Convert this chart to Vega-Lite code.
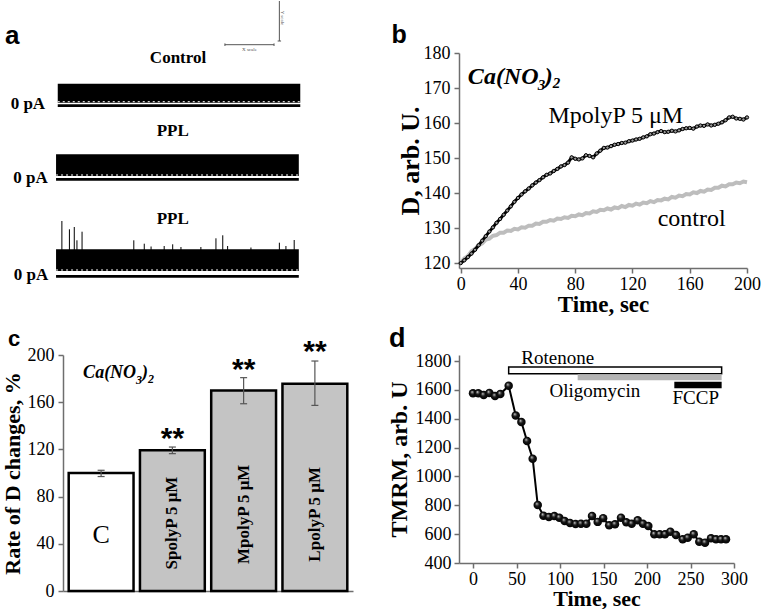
{
  "$schema": "https://vega.github.io/schema/vega-lite/v6.json",
  "background": "white",
  "padding": {"left": 1, "top": 0, "right": 0, "bottom": 0},
  "columns": 2,
  "bounds": "flush",
  "align": "each",
  "spacing": {"row": 87, "column": 106},
  "config": {
    "view": {"stroke": null},
    "axis": {
      "domainColor": "#6e6e6e", "tickColor": "#6e6e6e", "domainWidth": 1.5, "tickWidth": 1.5, "tickSize": 5,
      "labelFont": "Liberation Serif", "labelFontSize": 18, "labelColor": "#000",
      "titleFont": "Liberation Serif", "titleFontWeight": "bold", "titleColor": "#000",
      "grid": false, "labelOverlap": false, "labelFlush": false
    }
  },
  "datasets": {
    "bands": [
      {"u": -0.1, "u2": 99.7, "v": 165.3, "v2": 184.3},
      {"u": -0.8, "u2": 99.1, "v": 92, "v2": 113.7},
      {"u": -0.8, "u2": 99.1, "v": -3, "v2": 18.7}
    ],
    "speckles": [
      {"u": -0.1, "u2": 99.7, "v": 166.3},
      {"u": -0.8, "u2": 99.1, "v": 93},
      {"u": -0.8, "u2": 99.1, "v": -2}
    ],
    "baselines": [
      {"u": -0.1, "u2": 99.7, "v": 162.3},
      {"u": -0.8, "u2": 99.1, "v": 88.7},
      {"u": -0.8, "u2": 99.1, "v": -8.3}
    ],
    "spikes": [
      {"u": 1.6, "base": 18, "top": 47}, {"u": 4.7, "base": 18, "top": 38.7}, {"u": 6.7, "base": 18, "top": 41}, {"u": 7.8, "base": 18, "top": 27.7},
      {"u": 9.9, "base": 18, "top": 36.3}, {"u": 31.2, "base": 18, "top": 27.7}, {"u": 35.5, "base": 18, "top": 24.3}, {"u": 38.3, "base": 18, "top": 21.5},
      {"u": 43.7, "base": 18, "top": 22}, {"u": 47.2, "base": 18, "top": 23.7}, {"u": 50.6, "base": 18, "top": 21}, {"u": 58.8, "base": 18, "top": 21},
      {"u": 65.0, "base": 18, "top": 29.7}, {"u": 67.8, "base": 18, "top": 32.7}, {"u": 69.8, "base": 18, "top": 22}, {"u": 79.4, "base": 18, "top": 20.5},
      {"u": 91.1, "base": 18, "top": 25.3}, {"u": 93.8, "base": 18, "top": 22}, {"u": 97.2, "base": 18, "top": 28}
    ],
    "scalebar": [
      {"u": 68.7, "u2": 88.9, "v": 223.3, "v2": 223.3},
      {"u": 68.7, "u2": 68.7, "v": 222, "v2": 224.6},
      {"u": 88.9, "u2": 88.9, "v": 222, "v2": 224.6},
      {"u": 91.1, "u2": 91.1, "v": 227, "v2": 267},
      {"u": 90.4, "u2": 91.8, "v": 227, "v2": 227}
    ],
    "traceTitles": [
      {"txt": "Control", "u": 49.4, "v": 204.7},
      {"txt": "PPL", "u": 47.2, "v": 132},
      {"txt": "PPL", "u": 47.2, "v": 43.7}
    ],
    "zeroLabels": [
      {"txt": "0 pA", "u": -5.3, "v": 159.3},
      {"txt": "0 pA", "u": -4.2, "v": 85.3},
      {"txt": "0 pA", "u": -4.0, "v": -12.3}
    ],
    "ctrl": [
      {"t": 0, "v": 120.0}, {"t": 2.5, "v": 121.3}, {"t": 5, "v": 122.0}, {"t": 7.5, "v": 123.4}, {"t": 10, "v": 124.0},
      {"t": 12.5, "v": 125.1}, {"t": 15, "v": 125.6}, {"t": 17.5, "v": 126.7}, {"t": 20, "v": 127.0}, {"t": 22.5, "v": 127.8},
      {"t": 25, "v": 128.0}, {"t": 27.5, "v": 128.7}, {"t": 30, "v": 128.7}, {"t": 32.5, "v": 129.3}, {"t": 35, "v": 129.2},
      {"t": 37.5, "v": 129.8}, {"t": 40, "v": 129.6}, {"t": 42.5, "v": 130.2}, {"t": 45, "v": 130.1}, {"t": 47.5, "v": 130.7},
      {"t": 50, "v": 130.7}, {"t": 52.5, "v": 131.3}, {"t": 55, "v": 131.2}, {"t": 57.5, "v": 131.8}, {"t": 60, "v": 131.8},
      {"t": 62.5, "v": 132.3}, {"t": 65, "v": 132.1}, {"t": 67.5, "v": 132.7}, {"t": 70, "v": 132.6}, {"t": 72.5, "v": 133.1},
      {"t": 75, "v": 132.9}, {"t": 77.5, "v": 133.5}, {"t": 80, "v": 133.4}, {"t": 82.5, "v": 133.9}, {"t": 85, "v": 133.7},
      {"t": 87.5, "v": 134.3}, {"t": 90, "v": 134.2}, {"t": 92.5, "v": 134.8}, {"t": 95, "v": 134.6}, {"t": 97.5, "v": 135.2},
      {"t": 100, "v": 135.1}, {"t": 102.5, "v": 135.6}, {"t": 105, "v": 135.3}, {"t": 107.5, "v": 135.9}, {"t": 110, "v": 135.7},
      {"t": 112.5, "v": 136.3}, {"t": 115, "v": 136.0}, {"t": 117.5, "v": 136.6}, {"t": 120, "v": 136.4}, {"t": 122.5, "v": 137.0},
      {"t": 125, "v": 136.7}, {"t": 127.5, "v": 137.3}, {"t": 130, "v": 137.1}, {"t": 132.5, "v": 137.7}, {"t": 135, "v": 137.4},
      {"t": 137.5, "v": 138.0}, {"t": 140, "v": 137.9}, {"t": 142.5, "v": 138.4}, {"t": 145, "v": 138.2}, {"t": 147.5, "v": 138.9},
      {"t": 150, "v": 138.7}, {"t": 152.5, "v": 139.3}, {"t": 155, "v": 139.1}, {"t": 157.5, "v": 139.7}, {"t": 160, "v": 139.6},
      {"t": 162.5, "v": 140.2}, {"t": 165, "v": 140.0}, {"t": 167.5, "v": 140.6}, {"t": 170, "v": 140.4}, {"t": 172.5, "v": 141.0},
      {"t": 175, "v": 140.9}, {"t": 177.5, "v": 141.5}, {"t": 180, "v": 141.5}, {"t": 182.5, "v": 142.1}, {"t": 185, "v": 141.9},
      {"t": 187.5, "v": 142.5}, {"t": 190, "v": 142.5}, {"t": 192.5, "v": 143.0}, {"t": 195, "v": 142.8}, {"t": 197.5, "v": 143.3},
      {"t": 200, "v": 143.1}
    ],
    "mpoly": [
      {"t": 0, "v": 120.0}, {"t": 2.5, "v": 120.8}, {"t": 5, "v": 121.7}, {"t": 7.5, "v": 122.7}, {"t": 10, "v": 123.8},
      {"t": 12.5, "v": 125.1}, {"t": 15, "v": 126.4}, {"t": 17.5, "v": 127.7}, {"t": 20, "v": 129.0}, {"t": 22.5, "v": 130.2},
      {"t": 25, "v": 131.5}, {"t": 27.5, "v": 132.6}, {"t": 30, "v": 133.8}, {"t": 32.5, "v": 135.0}, {"t": 35, "v": 136.2},
      {"t": 37.5, "v": 137.5}, {"t": 40, "v": 138.6}, {"t": 42.5, "v": 139.6}, {"t": 45, "v": 140.5}, {"t": 47.5, "v": 141.3},
      {"t": 50, "v": 142.2}, {"t": 52.5, "v": 143.0}, {"t": 55, "v": 143.7}, {"t": 57.5, "v": 144.5}, {"t": 60, "v": 145.2},
      {"t": 62.5, "v": 145.6}, {"t": 65, "v": 146.3}, {"t": 67.5, "v": 146.9}, {"t": 70, "v": 147.6}, {"t": 72.5, "v": 148.0},
      {"t": 75, "v": 148.7}, {"t": 77.5, "v": 150.2}, {"t": 80, "v": 149.8}, {"t": 82.5, "v": 149.6}, {"t": 85, "v": 149.9},
      {"t": 87.5, "v": 150.8}, {"t": 90, "v": 150.6}, {"t": 92.5, "v": 150.2}, {"t": 95, "v": 151.3}, {"t": 97.5, "v": 152.1},
      {"t": 100, "v": 152.9}, {"t": 102.5, "v": 153.0}, {"t": 105, "v": 153.4}, {"t": 107.5, "v": 153.8}, {"t": 110, "v": 154.0},
      {"t": 112.5, "v": 154.3}, {"t": 115, "v": 154.4}, {"t": 117.5, "v": 154.8}, {"t": 120, "v": 155.0}, {"t": 122.5, "v": 155.3},
      {"t": 125, "v": 155.5}, {"t": 127.5, "v": 155.9}, {"t": 130, "v": 156.2}, {"t": 132.5, "v": 156.8}, {"t": 135, "v": 157.0},
      {"t": 137.5, "v": 157.4}, {"t": 140, "v": 157.7}, {"t": 142.5, "v": 157.4}, {"t": 145, "v": 157.5}, {"t": 147.5, "v": 157.8},
      {"t": 150, "v": 157.6}, {"t": 152.5, "v": 157.9}, {"t": 155, "v": 158.3}, {"t": 157.5, "v": 158.5}, {"t": 160, "v": 158.6},
      {"t": 162.5, "v": 158.4}, {"t": 165, "v": 159.0}, {"t": 167.5, "v": 159.3}, {"t": 170, "v": 159.2}, {"t": 172.5, "v": 159.6},
      {"t": 175, "v": 159.3}, {"t": 177.5, "v": 159.5}, {"t": 180, "v": 159.8}, {"t": 182.5, "v": 160.2}, {"t": 185, "v": 160.8},
      {"t": 187.5, "v": 161.6}, {"t": 190, "v": 161.8}, {"t": 192.5, "v": 161.3}, {"t": 195, "v": 161.2}, {"t": 197.5, "v": 161.0},
      {"t": 200, "v": 161.6}
    ],
    "bLabels": [
      {"txt": "MpolyP 5 μM", "t": 61.3, "v": 160.1},
      {"txt": "control", "t": 137.6, "v": 130.6}
    ],
    "bNote": [{"t": 5, "v": 171.1}],
    "bars": [
      {"k": "C", "v": 100, "lo": 97, "hi": 102.3},
      {"k": "S", "v": 119.2, "lo": 116.4, "hi": 122},
      {"k": "M", "v": 170, "lo": 158.7, "hi": 180.8},
      {"k": "L", "v": 175.7, "lo": 157.3, "hi": 194.9}
    ],
    "barNames": [
      {"k": "S", "txt": "SpolyP 5 μM", "v": 57.6},
      {"k": "M", "txt": "MpolyP 5 μM", "v": 65},
      {"k": "L", "txt": "LpolyP 5 μM", "v": 65}
    ],
    "stars": [
      {"k": "S", "v": 121.5},
      {"k": "M", "v": 180},
      {"k": "L", "v": 194.5}
    ],
    "cNote": [{"k": "C", "v": 180.5}],
    "cLetter": [{"k": "C", "txt": "C", "v": 47.5}],
    "cPanel": [{"k": "C", "txt": "c", "v": 207.6}],
    "tmrm": [
      {"t": 0, "v": 1576}, {"t": 6.1, "v": 1576}, {"t": 12.3, "v": 1564}, {"t": 18.8, "v": 1578}, {"t": 25.3, "v": 1557},
      {"t": 31.4, "v": 1571}, {"t": 41, "v": 1628}, {"t": 49.1, "v": 1422}, {"t": 55.6, "v": 1377}, {"t": 62.1, "v": 1246},
      {"t": 68.6, "v": 1123}, {"t": 74.4, "v": 802}, {"t": 81, "v": 728}, {"t": 87.2, "v": 719}, {"t": 93.5, "v": 725},
      {"t": 99.2, "v": 714}, {"t": 105.3, "v": 691}, {"t": 111.5, "v": 678}, {"t": 117.9, "v": 670}, {"t": 124.1, "v": 672},
      {"t": 130.3, "v": 672}, {"t": 136.8, "v": 726}, {"t": 143.3, "v": 685}, {"t": 149.6, "v": 711}, {"t": 156.5, "v": 661},
      {"t": 163.2, "v": 668}, {"t": 170.1, "v": 714}, {"t": 176.2, "v": 682}, {"t": 182.4, "v": 672}, {"t": 189.3, "v": 696},
      {"t": 195.4, "v": 672}, {"t": 201.5, "v": 656}, {"t": 208.4, "v": 599}, {"t": 214.6, "v": 599}, {"t": 220.7, "v": 599},
      {"t": 226.8, "v": 617}, {"t": 233.3, "v": 594}, {"t": 241, "v": 564}, {"t": 246.8, "v": 575}, {"t": 253.7, "v": 599},
      {"t": 260.1, "v": 548}, {"t": 266.7, "v": 541}, {"t": 273.6, "v": 571}, {"t": 279.3, "v": 564}, {"t": 285.1, "v": 564},
      {"t": 290.8, "v": 564}
    ],
    "drugs": [
      {"n": "Rotenone", "t": 41, "t2": 285.8, "v": 1712, "v2": 1758},
      {"n": "Oligomycin", "t": 120.3, "t2": 285.8, "v": 1666, "v2": 1708},
      {"n": "FCCP", "t": 231.4, "t2": 285.8, "v": 1611, "v2": 1657}
    ],
    "drugLabels": [
      {"txt": "Rotenone", "t": 97.4, "v": 1781},
      {"txt": "Oligomycin", "t": 140, "v": 1550},
      {"txt": "FCCP", "t": 256, "v": 1499}
    ]
  },
  "concat": [
    {
      "width": 290,
      "height": 215,
      "encoding": {
        "x": {"field": "u", "type": "quantitative", "scale": {"domain": [2.06, 121.4], "nice": false, "zero": false}, "axis": null},
        "y": {"field": "v", "type": "quantitative", "scale": {"domain": [0, 215], "nice": false, "zero": false}, "axis": null}
      },
      "layer": [
        {
          "data": {"name": "bands"},
          "mark": {"type": "rect", "color": "#000", "opacity": 1},
          "encoding": {"x2": {"field": "u2"}, "y2": {"field": "v2"}}
        },
        {
          "data": {"name": "speckles"},
          "mark": {"type": "rule", "color": "#ffffff", "strokeWidth": 1, "strokeDash": [2, 3]},
          "encoding": {"x2": {"field": "u2"}}
        },
        {
          "data": {"name": "baselines"},
          "mark": {"type": "rule", "color": "#000", "strokeWidth": 2.7},
          "encoding": {"x2": {"field": "u2"}}
        },
        {
          "data": {"name": "spikes"},
          "mark": {"type": "rule", "color": "#000", "strokeWidth": 1},
          "encoding": {
            "y": {"field": "base", "type": "quantitative", "axis": null},
            "y2": {"field": "top"}
          }
        },
        {
          "data": {"name": "scalebar"},
          "mark": {"type": "rule", "color": "#555", "strokeWidth": 1},
          "encoding": {"x2": {"field": "u2"}, "y2": {"field": "v2"}}
        },
        {
          "data": {"values": [{"txt": "X scale", "u": 78.8, "v": 219}]},
          "mark": {"type": "text", "font": "Liberation Serif", "fontSize": 5, "color": "#555", "align": "center"},
          "encoding": {"text": {"field": "txt"}}
        },
        {
          "data": {"values": [{"txt": "Y scale", "u": 92.6, "v": 250}]},
          "mark": {"type": "text", "font": "Liberation Serif", "fontSize": 5, "color": "#555", "align": "center", "angle": 90},
          "encoding": {"text": {"field": "txt"}}
        },
        {
          "data": {"name": "traceTitles"},
          "mark": {"type": "text", "font": "Liberation Serif", "fontWeight": "bold", "fontSize": 17, "align": "center", "baseline": "alphabetic", "color": "#000"},
          "encoding": {"text": {"field": "txt"}}
        },
        {
          "data": {"name": "zeroLabels"},
          "mark": {"type": "text", "font": "Liberation Serif", "fontWeight": "bold", "fontSize": 17, "align": "right", "baseline": "alphabetic", "color": "#000"},
          "encoding": {"text": {"field": "txt"}}
        },
        {
          "data": {"values": [{"txt": "a", "u": -21.8, "v": 224.3}]},
          "mark": {"type": "text", "font": "Liberation Sans", "fontWeight": "bold", "fontSize": 26, "align": "left", "baseline": "alphabetic", "color": "#000"},
          "encoding": {"text": {"field": "txt"}}
        }
      ]
    },
    {
      "width": 288,
      "height": 215,
      "encoding": {
        "x": {"field": "t", "type": "quantitative", "scale": {"domain": [-1.2, 200], "nice": false, "zero": false},
              "axis": {"values": [0, 40, 80, 120, 160, 200], "title": "Time, sec", "titleFontSize": 23, "titlePadding": 0,
                       "labelFont": "Liberation Serif", "labelFontSize": 18, "labelPadding": 2, "labelOverlap": false, "format": "d"}},
        "y": {"field": "v", "type": "quantitative", "scale": {"domain": [118.6, 180], "nice": false, "zero": false},
              "axis": {"values": [120, 130, 140, 150, 160, 170, 180], "title": "D, arb. U.", "titleFontSize": 26, "titlePadding": 0,
                       "labelFont": "Liberation Serif", "labelFontSize": 18, "labelPadding": 4, "labelOverlap": false, "format": "d"}}
      },
      "layer": [
        {
          "data": {"name": "ctrl"},
          "mark": {"type": "line", "color": "#bdbdbd", "strokeWidth": 4}
        },
        {
          "data": {"name": "mpoly"},
          "mark": {"type": "line", "color": "#000", "strokeWidth": 3}
        },
        {
          "data": {"name": "mpoly"},
          "mark": {"type": "point", "shape": "circle", "filled": true, "fill": "#9a9a9a", "stroke": "#000", "strokeWidth": 1, "size": 11, "opacity": 1}
        },
        {
          "data": {"name": "bLabels"},
          "mark": {"type": "text", "font": "Liberation Serif", "fontSize": 24, "align": "left", "baseline": "alphabetic", "color": "#000"},
          "encoding": {"text": {"field": "txt"}}
        },
        {
          "data": {"name": "bNote"},
          "mark": {"type": "text", "text": "Ca(NO", "font": "Liberation Serif", "fontWeight": "bold", "fontStyle": "italic", "fontSize": 24, "align": "left", "baseline": "alphabetic", "color": "#000"}
        },
        {
          "data": {"name": "bNote"},
          "mark": {"type": "text", "text": "3", "font": "Liberation Serif", "fontWeight": "bold", "fontStyle": "italic", "fontSize": 15, "align": "left", "baseline": "alphabetic", "dx": 70, "dy": 6, "color": "#000"}
        },
        {
          "data": {"name": "bNote"},
          "mark": {"type": "text", "text": ")", "font": "Liberation Serif", "fontWeight": "bold", "fontStyle": "italic", "fontSize": 24, "align": "left", "baseline": "alphabetic", "dx": 77, "color": "#000"}
        },
        {
          "data": {"name": "bNote"},
          "mark": {"type": "text", "text": "2", "font": "Liberation Serif", "fontWeight": "bold", "fontStyle": "italic", "fontSize": 15, "align": "left", "baseline": "alphabetic", "dx": 85, "dy": 4, "color": "#000"}
        },
        {
          "data": {"values": [{"txt": "b", "t": -48.4, "v": 182.9}]},
          "mark": {"type": "text", "font": "Liberation Sans", "fontWeight": "bold", "fontSize": 25, "align": "left", "baseline": "alphabetic", "color": "#000"},
          "encoding": {"text": {"field": "txt"}}
        }
      ]
    },
    {
      "width": 290,
      "height": 236,
      "layer": [
        {
          "data": {"name": "bars"},
          "mark": {"type": "bar", "stroke": "#000", "strokeWidth": 2.5, "opacity": 1},
          "encoding": {
            "x": {"field": "k", "type": "nominal", "sort": ["C", "S", "M", "L"],
                  "scale": {"domain": ["C", "S", "M", "L"], "paddingInner": 0.09, "paddingOuter": 0.08},
                  "axis": {"labels": false, "ticks": false, "title": null}},
            "y": {"field": "v", "type": "quantitative", "scale": {"domain": [0, 200], "nice": false},
                  "axis": {"values": [0, 40, 80, 120, 160, 200], "title": "Rate of D changes, %", "titleFontSize": 22, "titlePadding": 3,
                           "labelFont": "Liberation Serif", "labelFontSize": 18, "labelPadding": 4, "labelOverlap": false, "format": "d"}},
            "fill": {"field": "k", "type": "nominal", "scale": {"domain": ["C", "S", "M", "L"], "range": ["#ffffff", "#c4c4c4", "#c4c4c4", "#c4c4c4"]}, "legend": null}
          }
        },
        {
          "data": {"name": "bars"},
          "mark": {"type": "rule", "color": "#555", "strokeWidth": 1.2},
          "encoding": {
            "x": {"field": "k", "type": "nominal"},
            "y": {"field": "lo", "type": "quantitative"},
            "y2": {"field": "hi"}
          }
        },
        {
          "data": {"name": "bars"},
          "mark": {"type": "tick", "orient": "horizontal", "color": "#555", "size": 7, "thickness": 1.2, "opacity": 1},
          "encoding": {
            "x": {"field": "k", "type": "nominal"},
            "y": {"field": "lo", "type": "quantitative"}
          }
        },
        {
          "data": {"name": "bars"},
          "mark": {"type": "tick", "orient": "horizontal", "color": "#555", "size": 7, "thickness": 1.2, "opacity": 1},
          "encoding": {
            "x": {"field": "k", "type": "nominal"},
            "y": {"field": "hi", "type": "quantitative"}
          }
        },
        {
          "data": {"name": "barNames"},
          "mark": {"type": "text", "font": "Liberation Serif", "fontWeight": "bold", "fontSize": 17, "angle": 270, "align": "center", "baseline": "middle", "color": "#000"},
          "encoding": {
            "x": {"field": "k", "type": "nominal"},
            "y": {"field": "v", "type": "quantitative"},
            "text": {"field": "txt"}
          }
        },
        {
          "data": {"name": "cLetter"},
          "mark": {"type": "text", "font": "Liberation Serif", "fontSize": 26, "align": "center", "baseline": "middle", "color": "#000"},
          "encoding": {
            "x": {"field": "k", "type": "nominal"},
            "y": {"field": "v", "type": "quantitative"},
            "text": {"field": "txt"}
          }
        },
        {
          "data": {"name": "stars"},
          "mark": {"type": "text", "text": "**", "font": "Liberation Sans", "fontWeight": "bold", "fontSize": 30, "align": "center", "baseline": "alphabetic", "color": "#000"},
          "encoding": {
            "x": {"field": "k", "type": "nominal"},
            "y": {"field": "v", "type": "quantitative"}
          }
        },
        {
          "data": {"name": "cNote"},
          "mark": {"type": "text", "text": "Ca(NO", "font": "Liberation Serif", "fontWeight": "bold", "fontStyle": "italic", "fontSize": 18, "align": "left", "baseline": "alphabetic", "dx": -18, "color": "#000"},
          "encoding": {"x": {"field": "k", "type": "nominal"}, "y": {"field": "v", "type": "quantitative"}}
        },
        {
          "data": {"name": "cNote"},
          "mark": {"type": "text", "text": "3", "font": "Liberation Serif", "fontWeight": "bold", "fontStyle": "italic", "fontSize": 12, "align": "left", "baseline": "alphabetic", "dx": 35, "dy": 6, "color": "#000"},
          "encoding": {"x": {"field": "k", "type": "nominal"}, "y": {"field": "v", "type": "quantitative"}}
        },
        {
          "data": {"name": "cNote"},
          "mark": {"type": "text", "text": ")", "font": "Liberation Serif", "fontWeight": "bold", "fontStyle": "italic", "fontSize": 18, "align": "left", "baseline": "alphabetic", "dx": 41, "color": "#000"},
          "encoding": {"x": {"field": "k", "type": "nominal"}, "y": {"field": "v", "type": "quantitative"}}
        },
        {
          "data": {"name": "cNote"},
          "mark": {"type": "text", "text": "2", "font": "Liberation Serif", "fontWeight": "bold", "fontStyle": "italic", "fontSize": 12, "align": "left", "baseline": "alphabetic", "dx": 47, "dy": 5, "color": "#000"},
          "encoding": {"x": {"field": "k", "type": "nominal"}, "y": {"field": "v", "type": "quantitative"}}
        },
        {
          "data": {"name": "cPanel"},
          "mark": {"type": "text", "font": "Liberation Sans", "fontWeight": "bold", "fontSize": 22, "align": "left", "baseline": "alphabetic", "dx": -93, "color": "#000"},
          "encoding": {"x": {"field": "k", "type": "nominal"}, "y": {"field": "v", "type": "quantitative"}, "text": {"field": "txt"}}
        }
      ]
    },
    {
      "width": 275,
      "height": 208,
      "encoding": {
        "x": {"field": "t", "type": "quantitative", "scale": {"domain": [-16.1, 300], "nice": false, "zero": false},
              "axis": {"values": [0, 50, 100, 150, 200, 250, 300], "title": "Time, sec", "titleFontSize": 22, "titlePadding": 0,
                       "labelFont": "Liberation Serif", "labelFontSize": 18, "labelPadding": 2, "labelOverlap": false, "format": "d"}},
        "y": {"field": "v", "type": "quantitative", "scale": {"domain": [400, 1841.6], "nice": false, "zero": false},
              "axis": {"values": [400, 600, 800, 1000, 1200, 1400, 1600, 1800], "title": "TMRM, arb. U", "titleFontSize": 24, "titlePadding": 4,
                       "labelFont": "Liberation Serif", "labelFontSize": 18, "labelPadding": 3, "labelOverlap": false, "format": "d"}}
      },
      "layer": [
        {
          "data": {"name": "drugs"},
          "transform": [{"filter": "datum.n == 'Rotenone'"}],
          "mark": {"type": "rect", "fill": "#ffffff", "stroke": "#000000", "strokeWidth": 1.5, "opacity": 1},
          "encoding": {"x2": {"field": "t2"}, "y2": {"field": "v2"}}
        },
        {
          "data": {"name": "drugs"},
          "transform": [{"filter": "datum.n == 'Oligomycin'"}],
          "mark": {"type": "rect", "fill": "#b4b4b4", "opacity": 1},
          "encoding": {"x2": {"field": "t2"}, "y2": {"field": "v2"}}
        },
        {
          "data": {"name": "drugs"},
          "transform": [{"filter": "datum.n == 'FCCP'"}],
          "mark": {"type": "rect", "fill": "#000000", "opacity": 1},
          "encoding": {"x2": {"field": "t2"}, "y2": {"field": "v2"}}
        },
        {
          "data": {"name": "drugLabels"},
          "mark": {"type": "text", "font": "Liberation Serif", "fontSize": 19, "align": "center", "baseline": "alphabetic", "color": "#000"},
          "encoding": {"text": {"field": "txt"}}
        },
        {
          "data": {"name": "tmrm"},
          "mark": {"type": "line", "color": "#000", "strokeWidth": 2}
        },
        {
          "data": {"name": "tmrm"},
          "mark": {"type": "point", "shape": "circle", "filled": true, "size": 72, "opacity": 1, "fillOpacity": 1, "strokeWidth": 0,
                   "fill": {"gradient": "radial", "x1": 0.38, "y1": 0.32, "r1": 0, "x2": 0.5, "y2": 0.5, "r2": 0.55,
                            "stops": [{"offset": 0, "color": "#ffffff"}, {"offset": 0.18, "color": "#7a7a7a"}, {"offset": 0.45, "color": "#151515"}, {"offset": 1, "color": "#000000"}]}}
        },
        {
          "data": {"values": [{"txt": "d", "t": -96.6, "v": 1897}]},
          "mark": {"type": "text", "font": "Liberation Sans", "fontWeight": "bold", "fontSize": 27, "align": "left", "baseline": "alphabetic", "color": "#000"},
          "encoding": {"text": {"field": "txt"}}
        }
      ]
    }
  ]
}
